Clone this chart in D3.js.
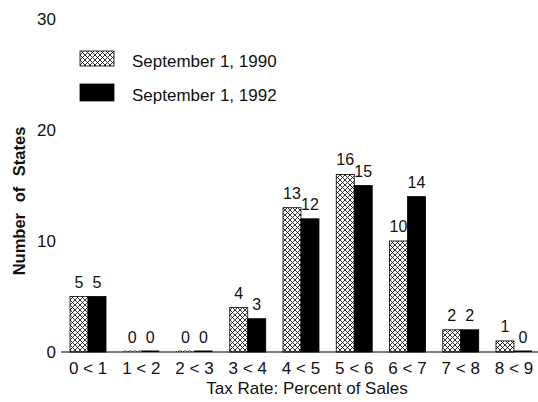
<!DOCTYPE html>
<html><head><meta charset="utf-8">
<script src="https://cdn.jsdelivr.net/npm/d3@7"></script>
<style>body{margin:0;background:#fff}svg{display:block;font-family:"Liberation Sans",Arial,sans-serif}</style>
</head><body><svg id="c" width="538" height="402"></svg>
<script>
const categories = ["0 < 1","1 < 2","2 < 3","3 < 4","4 < 5","5 < 6","6 < 7","7 < 8","8 < 9"];
const series = ["September 1, 1990","September 1, 1992"];
const values1990 = [5,0,0,4,13,16,10,2,1];
const values1992 = [5,0,0,3,12,15,14,2,0];
const yTicks = [0,10,20,30];

const svg = d3.select("#c");
const defs = svg.append("defs");
const pat = defs.append("pattern").attr("id","hatch").attr("patternUnits","userSpaceOnUse")
  .attr("width",5).attr("height",5);
pat.append("rect").attr("width",5).attr("height",5).attr("fill","#fff");
pat.append("path").attr("d","M0,0L5,5M5,0L0,5M-1,4L1,6M4,-1L6,1M-1,1L1,-1M4,6L6,4")
  .attr("stroke","#000").attr("stroke-width",0.8);

const x = d3.scaleBand().domain(categories).range([61.4,540.6]).paddingInner(0.324).paddingOuter(0.162);
const xs = d3.scaleBand().domain([0,1]).range([0,x.bandwidth()]);
const y = d3.scaleLinear().domain([0,30]).range([352,19]);

const data = categories.map((c,i)=>({c, v:[values1990[i],values1992[i]]}));
const fills = ["url(#hatch)","#000"];

const g = svg.append("g");
data.forEach(d=>{
  d.v.forEach((v,k)=>{
    const x0 = x(d.c)+xs(k);
    const h = y(0)-y(v);
    g.append("rect").attr("x",x0).attr("y",h>0?y(v):y(0)-1.5).attr("width",xs.bandwidth())
      .attr("height",h>0?h:1.5).attr("fill",fills[k]).attr("stroke","#000").attr("stroke-width",h>0?0.8:0);
    g.append("text").attr("x",x0+xs.bandwidth()/2).attr("y",y(v)-9)
      .attr("text-anchor","middle").attr("font-size",16).attr("fill","#111").text(v);
  });
});

// x axis
const xa = svg.append("g").attr("transform",`translate(0,${y(0)})`)
  .call(d3.axisBottom(x).tickSize(0).tickPadding(10).tickSizeOuter(0));
xa.select(".domain").attr("stroke","#000").attr("stroke-width",1.2).attr("d","M61,0H538");
xa.selectAll("text").attr("font-size",17).attr("fill","#111").attr("font-family","Liberation Sans, Arial, sans-serif");

// y axis (labels only)
const ya = svg.append("g").attr("transform","translate(56,0)")
  .call(d3.axisLeft(y).tickValues(yTicks).tickSize(0).tickPadding(0));
ya.select(".domain").remove();
ya.selectAll("text").attr("font-size",17).attr("fill","#111").attr("font-family","Liberation Sans, Arial, sans-serif");

svg.append("text").attr("x",307).attr("y",394).attr("text-anchor","middle").attr("font-size",17)
  .attr("fill","#111").text("Tax Rate: Percent of Sales");
svg.append("text").attr("transform","translate(25,201) rotate(-90)").attr("text-anchor","middle")
  .attr("font-size",16.5).attr("font-weight","bold").attr("word-spacing",6).attr("fill","#111").text("Number of States");

// legend
const leg = svg.append("g");
series.forEach((s,k)=>{
  leg.append("rect").attr("x",80).attr("y",51+k*33).attr("width",34).attr("height",15+k*2)
    .attr("fill",fills[k]).attr("stroke","#000").attr("stroke-width",0.8);
  leg.append("text").attr("x",132).attr("y",67+k*34).attr("font-size",17).attr("fill","#111").text(s);
});
</script></body></html>
